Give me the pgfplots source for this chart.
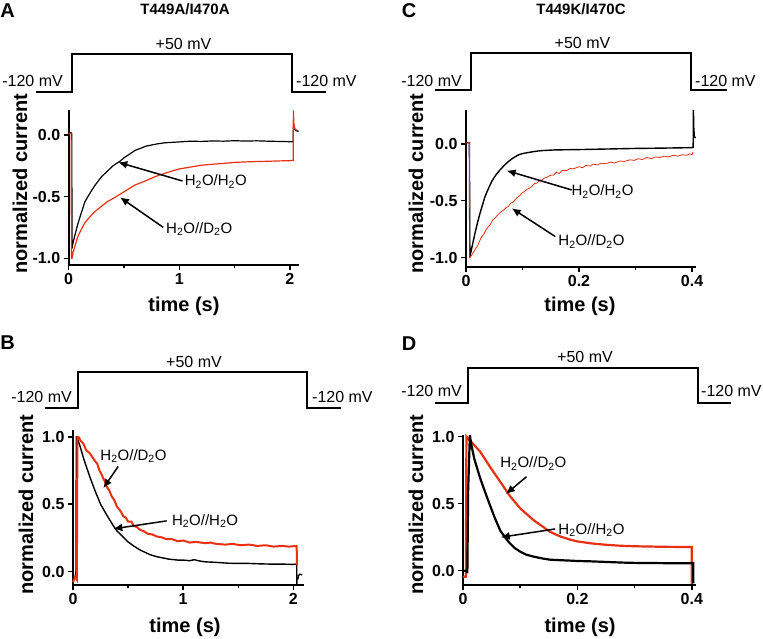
\documentclass[border=0pt]{standalone}
\usepackage{fontspec}
\setmainfont{Liberation Sans}
\usepackage{pgfplots}
\pgfplotsset{compat=1.18}
\usetikzlibrary{arrows.meta}
\definecolor{tred}{RGB}{232,48,18}
\pgfplotsset{
  panel/.style={
    scale only axis, clip=false,
    axis lines=left,
    axis line style={-, line width=1.9pt},
    tick style={black, line width=1.5pt},
    tick align=outside,
    major tick length=5pt, minor tick length=3.5pt,
    minor x tick num=1,
    ticklabel style={font=\fontsize{16}{18}\selectfont\bfseries},
    /pgf/number format/assume math mode=true,
    yticklabel style={/pgf/number format/.cd, fixed, fixed zerofill, precision=1},
    xlabel={time (s)}, ylabel={normalized current},
    label style={font=\fontsize{20}{22}\selectfont\bfseries},
    xlabel style={anchor=center}, ylabel style={anchor=center},
  },
}
\tikzset{
  arr/.style={-{Latex[length=9pt,width=8pt]}, line width=1.5pt},
  ann/.style={font=\fontsize{15}{17}\selectfont, inner sep=0pt},
  volt/.style={font=\fontsize{16}{18}\selectfont, inner sep=0pt},
  prot/.style={line width=2pt, line join=miter},
}
\newcommand{\HH}{H\textsubscript{2}O/H\textsubscript{2}O}
\newcommand{\HHH}{H\textsubscript{2}O//H\textsubscript{2}O}
\newcommand{\HD}{H\textsubscript{2}O//D\textsubscript{2}O}
\begin{document}
\begin{tikzpicture}
\useasboundingbox (0,0) rectangle (763pt,639pt);
% ---------------- Panel A ----------------
\node[font=\fontsize{20}{22}\selectfont\bfseries, inner sep=0pt] at (7.5pt,628pt) {A};
\node[font=\fontsize{15}{17}\selectfont\bfseries, inner sep=0pt] at (185pt,630pt) {T449A/I470A};
\draw[prot] (36pt,547.3pt) -- (71.5pt,547.3pt) -- (71.5pt,584.7pt) -- (292.3pt,584.7pt) -- (292.3pt,547.3pt) -- (326pt,547.3pt);
\node[volt, anchor=east] at (63pt,558pt) {-120 mV};
\node[volt] at (183.5pt,595pt) {+50 mV};
\node[volt, anchor=west] at (296pt,558pt) {-120 mV};
\begin{axis}[panel, at={(68.7pt,374pt)}, anchor=south west, width=230pt, height=155pt,
  xmin=0, xmax=2.08, ymin=-1.054, ymax=0.203, xtick={0,1,2}, ytick={-1,-0.5,0},
  xlabel style={at={(axis description cs:0.501,-0.268)}},
  ylabel style={at={(axis description cs:-0.212,0.526)}}]
\addplot[black, line width=1.2pt] coordinates {(0,0.02)(0.02,0.02)(0.028,0.01)(0.03,-0.92)(0.04,-0.87)(0.057,-0.81)(0.08,-0.73)(0.1,-0.67)(0.147,-0.54)(0.2,-0.46)(0.24,-0.405)(0.3,-0.335)(0.33,-0.31)(0.4,-0.25)(0.46,-0.215)(0.5,-0.185)(0.6,-0.125)(0.7,-0.09)(0.8,-0.072)(0.87,-0.063)(1.0,-0.056)(1.1,-0.05)(1.2,-0.052)(1.3,-0.048)(1.4,-0.05)(1.5,-0.046)(1.6,-0.049)(1.7,-0.047)(1.8,-0.05)(1.9,-0.052)(2.0,-0.054)(2.03,-0.054)(2.032,0.06)(2.04,0.05)(2.055,0.035)(2.08,0.03)};
\addplot[tred, line width=1.2pt] coordinates {(0,0.015)(0.022,0.015)(0.025,-1.0)(0.03,-1.0)(0.04,-0.95)(0.057,-0.9)(0.08,-0.83)(0.1,-0.79)(0.147,-0.71)(0.2,-0.655)(0.238,-0.62)(0.3,-0.575)(0.35,-0.54)(0.42,-0.505)(0.5,-0.46)(0.6,-0.405)(0.7,-0.37)(0.78,-0.338)(0.87,-0.31)(0.96,-0.285)(1.0,-0.275)(1.1,-0.26)(1.2,-0.245)(1.3,-0.237)(1.4,-0.23)(1.5,-0.222)(1.6,-0.218)(1.7,-0.215)(1.8,-0.213)(1.9,-0.21)(2.0,-0.208)(2.03,-0.205)(2.032,0.2)(2.036,0.1)(2.042,0.06)(2.05,0.045)(2.065,0.04)};
\node[ann] at (axis cs:1.33,-0.377) {\HH};
\draw[arr] (axis cs:1.03,-0.373) -- (axis cs:0.448,-0.221);
\node[ann] at (axis cs:1.18,-0.762) {\HD};
\draw[arr] (axis cs:0.855,-0.749) -- (axis cs:0.464,-0.505);
\end{axis}
% ---------------- Panel C ----------------
\node[font=\fontsize{20}{22}\selectfont\bfseries, inner sep=0pt] at (409pt,628pt) {C};
\node[font=\fontsize{15}{17}\selectfont\bfseries, inner sep=0pt] at (581pt,630pt) {T449K/I470C};
\draw[prot] (435pt,549pt) -- (470.7pt,549pt) -- (470.7pt,585.7pt) -- (691pt,585.7pt) -- (691pt,549pt) -- (726.7pt,549pt);
\node[volt, anchor=east] at (462pt,558pt) {-120 mV};
\node[volt] at (582.5pt,596pt) {+50 mV};
\node[volt, anchor=west] at (695pt,558pt) {-120 mV};
\begin{axis}[panel, at={(466pt,372.3pt)}, anchor=south west, width=229.7pt, height=156.8pt,
  xmin=0, xmax=0.4065, ymin=-1.08, ymax=0.299, xtick={0,0.2,0.4}, ytick={-1,-0.5,0},
  xlabel style={at={(axis description cs:0.496,-0.255)}},
  ylabel style={at={(axis description cs:-0.218,0.531)}}]
\addplot[black, line width=1.4pt] coordinates {(0,0.01)(0.006,0.01)(0.0068,-1.0)(0.0071,-0.99)(0.01,-0.92)(0.0159,-0.786)(0.02,-0.70)(0.0248,-0.61)(0.0336,-0.463)(0.04,-0.39)(0.0455,-0.33)(0.0525,-0.275)(0.0602,-0.229)(0.0675,-0.19)(0.0749,-0.155)(0.083,-0.125)(0.0926,-0.097)(0.1,-0.085)(0.11,-0.076)(0.122,-0.066)(0.134,-0.059)(0.157,-0.053)(0.2,-0.05)(0.25,-0.045)(0.3,-0.04)(0.35,-0.037)(0.4,-0.033)(0.402,-0.03)(0.4025,0.3)(0.403,0.15)(0.404,0.07)(0.406,0.05)};
\addplot[tred, line width=0.8pt] coordinates {(0,0.01)(0.006,0.01)(0.0068,-1.0)(0.01,-0.98)(0.0159,-0.93)(0.02,-0.9)(0.0277,-0.815)(0.031,-0.8)(0.035,-0.76)(0.0395,-0.727)(0.043,-0.71)(0.047,-0.67)(0.0513,-0.654)(0.055,-0.63)(0.059,-0.61)(0.063,-0.595)(0.067,-0.58)(0.071,-0.56)(0.0749,-0.551)(0.079,-0.52)(0.083,-0.515)(0.0867,-0.493)(0.091,-0.47)(0.095,-0.455)(0.0985,-0.434)(0.103,-0.42)(0.108,-0.4)(0.112,-0.39)(0.116,-0.375)(0.121,-0.35)(0.125,-0.345)(0.13,-0.325)(0.134,-0.317)(0.139,-0.3)(0.143,-0.295)(0.148,-0.28)(0.152,-0.273)(0.155,-0.275)(0.16,-0.25)(0.165,-0.26)(0.17,-0.235)(0.178,-0.235)(0.185,-0.215)(0.19,-0.22)(0.2,-0.2)(0.206,-0.21)(0.212,-0.19)(0.22,-0.195)(0.225,-0.178)(0.232,-0.185)(0.24,-0.17)(0.248,-0.175)(0.255,-0.16)(0.263,-0.168)(0.273,-0.15)(0.28,-0.155)(0.29,-0.14)(0.298,-0.145)(0.305,-0.13)(0.312,-0.138)(0.32,-0.12)(0.328,-0.13)(0.335,-0.115)(0.343,-0.12)(0.35,-0.108)(0.358,-0.115)(0.367,-0.1)(0.375,-0.108)(0.383,-0.095)(0.39,-0.1)(0.396,-0.088)(0.4,-0.095)(0.402,-0.07)};
\node[ann] at (axis cs:0.2416,-0.418) {\HH};
\draw[arr] (axis cs:0.187,-0.405) -- (axis cs:0.072,-0.235);
\node[ann] at (axis cs:0.222,-0.858) {\HD};
\draw[arr] (axis cs:0.158,-0.815) -- (axis cs:0.0809,-0.566);
\end{axis}
% ---------------- Panel B ----------------
\node[font=\fontsize{20}{22}\selectfont\bfseries, inner sep=0pt] at (7.5pt,296pt) {B};
\draw[prot] (44.7pt,230.7pt) -- (77.7pt,230.7pt) -- (77.7pt,267.3pt) -- (307.3pt,267.3pt) -- (307.3pt,230.7pt) -- (340.7pt,230.7pt);
\node[volt, anchor=east] at (72pt,242pt) {-120 mV};
\node[volt] at (194pt,277pt) {+50 mV};
\node[volt, anchor=west] at (312pt,242pt) {-120 mV};
\begin{axis}[panel, at={(73pt,54pt)}, anchor=south west, width=231.4pt, height=154.9pt,
  xmin=0, xmax=2.1, ymin=-0.1, ymax=1.05, xtick={0,1,2}, ytick={0,0.5,1},
  xlabel style={at={(axis description cs:0.484,-0.275)}},
  ylabel style={at={(axis description cs:-0.203,0.52)}}]
\addplot[black, line width=1.4pt] coordinates {(0,-0.05)(0.02,-0.04)(0.027,0.0)(0.03,1.0)(0.035,1.0)(0.064,0.93)(0.1,0.83)(0.154,0.7)(0.2,0.6)(0.25,0.5)(0.306,0.42)(0.366,0.34)(0.4,0.3)(0.457,0.255)(0.5,0.22)(0.55,0.19)(0.608,0.16)(0.7,0.125)(0.76,0.11)(0.87,0.092)(0.95,0.085)(1.0,0.085)(1.06,0.08)(1.1,0.088)(1.15,0.078)(1.2,0.072)(1.3,0.068)(1.4,0.062)(1.5,0.06)(1.6,0.06)(1.7,0.057)(1.8,0.055)(1.9,0.055)(2.0,0.053)(2.03,0.055)(2.032,-0.1)};
\addplot[black, line width=1.4pt] coordinates {(2.04,-0.06)(2.045,-0.03)(2.06,-0.02)(2.08,-0.025)};
\addplot[tred, line width=2pt] coordinates {(0,-0.08)(0.02,-0.04)(0.035,-0.06)(0.04,1.0)(0.05,1.0)(0.07,0.97)(0.094,0.95)(0.12,0.9)(0.15,0.88)(0.2,0.82)(0.22,0.8)(0.24,0.75)(0.26,0.72)(0.275,0.69)(0.29,0.67)(0.306,0.63)(0.33,0.6)(0.35,0.56)(0.375,0.53)(0.4,0.48)(0.43,0.45)(0.457,0.41)(0.48,0.4)(0.5,0.37)(0.53,0.37)(0.55,0.34)(0.58,0.33)(0.608,0.31)(0.64,0.3)(0.68,0.28)(0.72,0.275)(0.76,0.26)(0.8,0.255)(0.85,0.24)(0.9,0.24)(0.95,0.225)(1.0,0.23)(1.06,0.215)(1.12,0.22)(1.2,0.21)(1.25,0.215)(1.3,0.205)(1.38,0.2)(1.45,0.205)(1.52,0.195)(1.6,0.2)(1.67,0.19)(1.75,0.195)(1.82,0.185)(1.9,0.19)(1.96,0.185)(2.03,0.19)(2.032,0.05)};
\node[ann] at (axis cs:0.549,0.855) {\HD};
\draw[arr] (axis cs:0.41,0.78) -- (axis cs:0.275,0.619);
\node[ann] at (axis cs:1.198,0.373) {\HHH};
\draw[arr] (axis cs:0.85,0.376) -- (axis cs:0.366,0.317);
\end{axis}
% ---------------- Panel D ----------------
\node[font=\fontsize{20}{22}\selectfont\bfseries, inner sep=0pt] at (409pt,295pt) {D};
\draw[prot] (435pt,235.7pt) -- (467.7pt,235.7pt) -- (467.7pt,270.7pt) -- (697.7pt,270.7pt) -- (697.7pt,235.7pt) -- (730.7pt,235.7pt);
\node[volt, anchor=east] at (462pt,248pt) {-120 mV};
\node[volt] at (585pt,282pt) {+50 mV};
\node[volt, anchor=west] at (701pt,248pt) {-120 mV};
\begin{axis}[panel, at={(463pt,54pt)}, anchor=south west, width=232.8pt, height=149.7pt,
  xmin=0, xmax=0.407, ymin=-0.107, ymax=1.01, xtick={0,0.2,0.4}, ytick={0,0.5,1},
  xlabel style={at={(axis description cs:0.503,-0.285)}},
  ylabel style={at={(axis description cs:-0.202,0.538)}}]
\addplot[tred, line width=2.2pt] coordinates {(0,-0.045)(0.005,-0.045)(0.006,1.0)(0.01,0.98)(0.02,0.935)(0.03,0.888)(0.047,0.776)(0.065,0.664)(0.082,0.557)(0.1,0.465)(0.123,0.378)(0.152,0.29)(0.17,0.255)(0.187,0.232)(0.2,0.218)(0.225,0.203)(0.25,0.193)(0.275,0.186)(0.3,0.182)(0.35,0.178)(0.3998,0.176)(0.3998,-0.1)};
\addplot[black, line width=2.2pt] coordinates {(0,0.0)(0.007,0.0)(0.0076,-0.02)(0.009,0.6)(0.012,1.01)(0.015,0.93)(0.02,0.83)(0.03,0.69)(0.04,0.57)(0.047,0.49)(0.055,0.4)(0.065,0.3)(0.075,0.24)(0.082,0.204)(0.09,0.17)(0.1,0.142)(0.11,0.12)(0.123,0.105)(0.14,0.09)(0.152,0.082)(0.17,0.078)(0.187,0.075)(0.2,0.072)(0.22,0.07)(0.25,0.065)(0.28,0.06)(0.3,0.058)(0.35,0.056)(0.4025,0.056)(0.4025,-0.095)};
\node[ann] at (axis cs:0.123,0.80) {\HD};
\draw[arr] (axis cs:0.111,0.701) -- (axis cs:0.075,0.572);
\node[ann] at (axis cs:0.2246,0.304) {\HHH};
\draw[arr] (axis cs:0.161,0.311) -- (axis cs:0.066,0.249);
\end{axis}
\end{tikzpicture}
\end{document}
